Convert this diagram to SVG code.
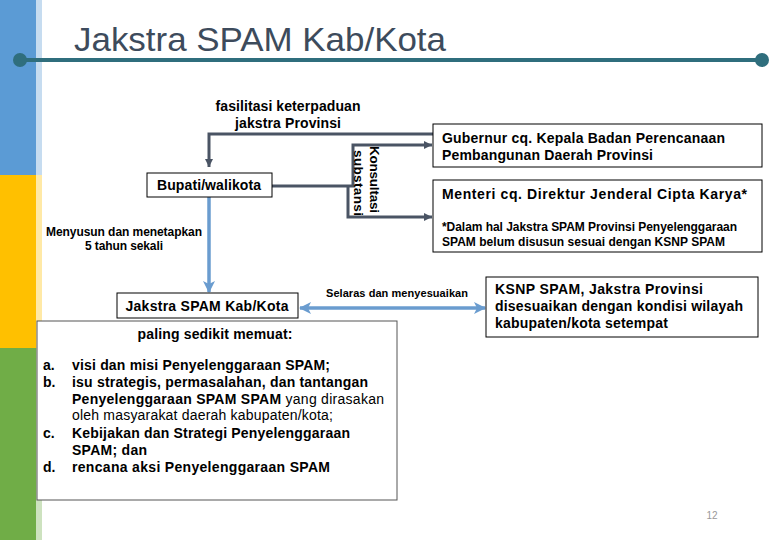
<svg xmlns="http://www.w3.org/2000/svg" width="780" height="540" viewBox="0 0 780 540">
<style>
text{font-family:"Liberation Sans",Arial,sans-serif;fill:#000}
.b{font-weight:bold}
.box{fill:#fff;stroke:#000;stroke-width:1}
.dk{fill:none;stroke:#4a5464;stroke-width:3}
.bl{fill:none;stroke:#6a9ccf;stroke-width:3.5}
.t13{font-size:13.5px}
.t14{font-size:14px}
.t12{font-size:12px}
.t11{font-size:11px}
</style>
<defs>
<marker id="ad" markerUnits="userSpaceOnUse" viewBox="0 0 8 8" refX="8" refY="4" markerWidth="8" markerHeight="8" orient="auto">
<path d="M0,0 L8,4 L0,8 z" fill="#4a5464"/>
</marker>
<marker id="ab" markerUnits="userSpaceOnUse" viewBox="0 0 12 12" refX="11" refY="6" markerWidth="12" markerHeight="12" orient="auto-start-reverse">
<path d="M0,0 L12,6 L0,12 L3,6 z" fill="#6a9ccf"/>
</marker>
</defs>
<rect width="780" height="540" fill="#fff"/>
<g id="stripe">
<rect x="0" y="0" width="36" height="175" fill="#5b9bd5"/>
<rect x="0" y="175" width="36" height="173" fill="#ffc000"/>
<rect x="0" y="348" width="36" height="192" fill="#70ad47"/>
<rect x="36" y="0" width="6" height="175" fill="#5b9bd5" opacity="0.35"/>
<rect x="36" y="175" width="6" height="173" fill="#ffc000" opacity="0.35"/>
<rect x="36" y="348" width="6" height="192" fill="#70ad47" opacity="0.35"/>
</g>
<g id="title">
<text x="74" y="51" font-size="33" style="fill:#3d4b5c" textLength="372" lengthAdjust="spacingAndGlyphs">Jakstra SPAM Kab/Kota</text>
<line x1="20" y1="60" x2="762" y2="60" stroke="#2f6e7d" stroke-width="4"/>
<circle cx="20" cy="60" r="7" fill="#2f6e7d"/>
<circle cx="762" cy="60" r="7" fill="#2f6e7d"/>
</g>
<g id="connectors">
<path class="dk" d="M433,134 H209 V167" marker-end="url(#ad)"/>
<path class="dk" d="M272,186 H353 V145 H432" marker-end="url(#ad)"/>
<path class="dk" d="M348,186 V217 H432" marker-end="url(#ad)"/>
<path class="bl" d="M209,197 V292" marker-end="url(#ab)"/>
<path class="bl" d="M300,308 H485" marker-start="url(#ab)" marker-end="url(#ab)"/>
</g>
<g id="label-fasilitasi">
<text class="b t14" x="288" y="111" text-anchor="middle" textLength="145">fasilitasi keterpaduan</text>
<text class="b t14" x="288" y="128" text-anchor="middle" textLength="106">jakstra Provinsi</text>
</g>
<g id="label-konsultasi">
<text class="b t13" transform="translate(370,146) rotate(90)" textLength="67">Konsultasi</text>
<text class="b t13" transform="translate(354,150) rotate(90)" textLength="66">substansi</text>
</g>
<g id="node-bupati">
<rect class="box" x="147" y="173" width="125" height="24"/>
<text class="b t14" x="209" y="190" text-anchor="middle" textLength="104">Bupati/walikota</text>
</g>
<g id="label-menyusun">
<text class="b t12" x="124" y="236" text-anchor="middle" textLength="156">Menyusun dan menetapkan</text>
<text class="b t12" x="124" y="250" text-anchor="middle" textLength="78">5 tahun sekali</text>
</g>
<g id="node-gubernur">
<rect class="box" x="433" y="124" width="329" height="43"/>
<text class="b t14" x="442" y="143" textLength="283">Gubernur cq. Kepala Badan Perencanaan</text>
<text class="b t14" x="442" y="160" textLength="211">Pembangunan Daerah Provinsi</text>
</g>
<g id="node-menteri">
<rect class="box" x="433" y="180" width="329" height="72"/>
<text class="b t14" x="442" y="199" textLength="305">Menteri cq. Direktur Jenderal Cipta Karya*</text>
<text class="b t12" x="442" y="231" textLength="295">*Dalam hal Jakstra SPAM Provinsi Penyelenggaraan</text>
<text class="b t12" x="442" y="246" textLength="283">SPAM belum disusun sesuai dengan KSNP SPAM</text>
</g>
<g id="node-jakstra">
<rect class="box" x="117" y="293" width="181" height="25"/>
<text class="b t14" x="207" y="311" text-anchor="middle" textLength="163">Jakstra SPAM Kab/Kota</text>
</g>
<g id="label-selaras">
<text class="b t11" x="326" y="297" textLength="142">Selaras dan menyesuaikan</text>
</g>
<g id="node-ksnp">
<rect class="box" x="486" y="277" width="272" height="60"/>
<text class="b t14" x="495" y="294" textLength="208">KSNP SPAM, Jakstra Provinsi</text>
<text class="b t14" x="495" y="311" textLength="248">disesuaikan dengan kondisi wilayah</text>
<text class="b t14" x="495" y="328" textLength="173">kabupaten/kota setempat</text>
</g>
<g id="node-isi">
<rect x="37" y="321" width="360" height="179" fill="#fff" stroke="#555" stroke-width="1"/>
<text class="b t14" x="215" y="339" text-anchor="middle" textLength="155">paling sedikit memuat:</text>
<g class="b t14">
<text x="43" y="370">a.</text>
<text x="43" y="387">b.</text>
<text x="43" y="438">c.</text>
<text x="43" y="472">d.</text>
<text x="72" y="370" textLength="258">visi dan misi Penyelenggaraan SPAM;</text>
<text x="72" y="387" textLength="296">isu strategis, permasalahan, dan tantangan</text>
<text x="72" y="404" textLength="312">Penyelenggaraan SPAM SPAM<tspan font-weight="normal"> yang dirasakan</tspan></text>
<text x="72" y="420" font-weight="normal" textLength="261">oleh masyarakat daerah kabupaten/kota;</text>
<text x="72" y="438" textLength="278">Kebijakan dan Strategi Penyelenggaraan</text>
<text x="72" y="455" textLength="75">SPAM; dan</text>
<text x="72" y="472" textLength="258">rencana aksi Penyelenggaraan SPAM</text>
</g>
</g>
<g id="page-number">
<text x="712" y="519" font-size="10" text-anchor="middle" style="fill:#999">12</text>
</g>
</svg>
